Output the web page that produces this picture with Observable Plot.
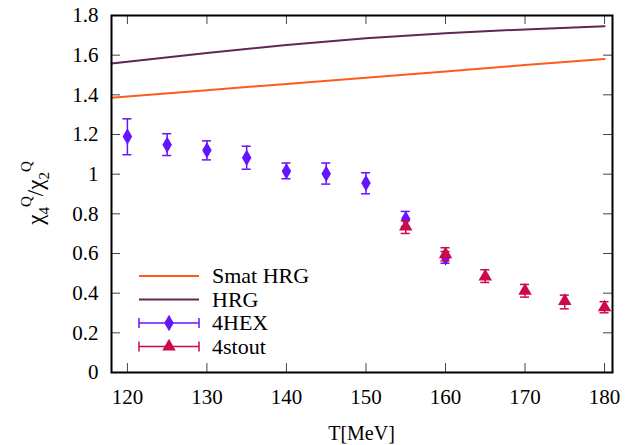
<!DOCTYPE html>
<html>
<head>
<meta charset="utf-8">
<script src="https://cdn.jsdelivr.net/npm/d3@7"></script>
<script src="https://cdn.jsdelivr.net/npm/@observablehq/plot@0.6"></script>
<style>
  body { margin: 0; background: #fff; }
  #chart svg { display: block; }
</style>
</head>
<body>
<div id="chart"></div>
<script>
// Model curves
const curveT = [118, 120, 130, 140, 150, 160, 170, 180];
const smatHRG = [1.385, 1.391, 1.423, 1.455, 1.486, 1.518, 1.550, 1.581];
const hrg = [1.558, 1.567, 1.611, 1.651, 1.685, 1.711, 1.730, 1.746];

// Lattice: 4HEX
const hexT = [120, 125, 130, 135, 140, 145, 150, 155, 160];
const hexVal = [1.190, 1.148, 1.121, 1.083, 1.015, 1.002, 0.955, 0.774, 0.580];
const hexLo = [1.098, 1.094, 1.072, 1.025, 0.977, 0.950, 0.901, 0.736, 0.551];
const hexHi = [1.279, 1.204, 1.168, 1.141, 1.056, 1.056, 1.007, 0.812, 0.610];

// Lattice: 4stout
const stoutT = [155, 160, 165, 170, 175, 180];
const stoutVal = [0.735, 0.596, 0.484, 0.412, 0.360, 0.328];
const stoutLo = [0.701, 0.563, 0.454, 0.380, 0.321, 0.301];
const stoutHi = [0.765, 0.629, 0.518, 0.444, 0.390, 0.357];

const xTicks = [120, 130, 140, 150, 160, 170, 180];
const yTicks = [0, 0.2, 0.4, 0.6, 0.8, 1, 1.2, 1.4, 1.6, 1.8];
const yTickLabels = ["0", "0.2", "0.4", "0.6", "0.8", "1", "1.2", "1.4", "1.6", "1.8"];

const legendLabels = ["Smat HRG", "HRG", "4HEX", "4stout"];

const C_SMAT = "#ff5a1e", C_HRG = "#5e2852", C_HEX = "#6414ff", C_STOUT = "#cc0a48";
const SERIF = "Liberation Serif";

const smat = curveT.map((T, i) => ({T, v: smatHRG[i]}));
const hrgD = curveT.map((T, i) => ({T, v: hrg[i]}));
const hex = hexT.map((T, i) => ({T, v: hexVal[i], lo: hexLo[i], hi: hexHi[i]}));
const stout = stoutT.map((T, i) => ({T, v: stoutVal[i], lo: stoutLo[i], hi: stoutHi[i]}));

const capHalf = 0.57;
const H = 357, W = 501, TL = 9;

function errMarks(data, color, symbol, r) {
  return [
    Plot.ruleX(data, {x: "T", y1: "lo", y2: "hi", stroke: color, strokeWidth: 1.5}),
    Plot.ruleY(data, {y: "lo", x1: d => d.T - capHalf, x2: d => d.T + capHalf, stroke: color, strokeWidth: 1.5}),
    Plot.ruleY(data, {y: "hi", x1: d => d.T - capHalf, x2: d => d.T + capHalf, stroke: color, strokeWidth: 1.5}),
    Plot.dot(data, {x: "T", y: "v", symbol, r, fill: color, stroke: "none"})
  ];
}

const chart = Plot.plot({
  width: 636,
  height: 445,
  marginLeft: 111,
  marginRight: 24,
  marginTop: 15,
  marginBottom: 73,
  style: {fontSize: "21px", background: "#fff", color: "#000", fontFamily: SERIF},
  x: {domain: [118, 181], ticks: xTicks, label: null},
  y: {domain: [0, 1.8], ticks: yTicks, label: null},
  marks: [
    Plot.ruleX(xTicks, {x: d => d, insetTop: H - TL, stroke: "#444", strokeWidth: 1}),
    Plot.ruleX(xTicks, {x: d => d, insetBottom: H - TL, stroke: "#444", strokeWidth: 1}),
    Plot.ruleY(yTicks, {y: d => d, insetRight: W - TL, stroke: "#444", strokeWidth: 1}),
    Plot.ruleY(yTicks, {y: d => d, insetLeft: W - TL, stroke: "#444", strokeWidth: 1}),
    Plot.axisX(xTicks, {tickSize: 0, tickPadding: 17, fontSize: 21, label: null}),
    Plot.axisY(yTicks, {tickSize: 0, tickPadding: 13, fontSize: 21, label: null,
      tickFormat: d => yTickLabels[yTicks.indexOf(d)]}),
    Plot.line(smat, {x: "T", y: "v", stroke: C_SMAT, strokeWidth: 2}),
    Plot.line(hrgD, {x: "T", y: "v", stroke: C_HRG, strokeWidth: 2}),
    ...errMarks(hex, C_HEX, "diamond", 5),
    ...errMarks(stout, C_STOUT, "triangle", 5),
    Plot.frame({stroke: "#000", strokeWidth: 2})
  ]
});

document.getElementById("chart").appendChild(chart);

const svg = d3.select(chart);
svg.attr("font-family", SERIF).style("font-family", SERIF, "important");
svg.append("text")
  .attr("x", 361.5).attr("y", 440)
  .attr("text-anchor", "middle")
  .attr("font-size", 20)
  .text("T[MeV]");

const yl = svg.append("text")
  .attr("transform", "translate(43,193) rotate(-90)")
  .attr("text-anchor", "middle")
  .attr("font-size", 23);
yl.append("tspan").text("χ");
yl.append("tspan").attr("dy", 6).attr("font-size", 15).text("4");
yl.append("tspan").attr("dy", -18).attr("font-size", 15).text("Q");
yl.append("tspan").attr("dy", 12).text("/χ");
yl.append("tspan").attr("dy", 6).attr("font-size", 15).text("2");
yl.append("tspan").attr("dy", -18).attr("font-size", 15).text("Q");

const colors = [C_SMAT, C_HRG, C_HEX, C_STOUT];
const lg = svg.append("g");
legendLabels.forEach((lab, i) => {
  const y = 276 + i * 23.5;
  const g = lg.append("g");
  g.append("line").attr("x1", 139).attr("x2", 199).attr("y1", y).attr("y2", y)
    .attr("stroke", colors[i]).attr("stroke-width", i < 2 ? 2 : 1.5);
  if (i >= 2) {
    g.append("line").attr("x1", 139).attr("x2", 139).attr("y1", y - 5).attr("y2", y + 5)
      .attr("stroke", colors[i]).attr("stroke-width", 1.5);
    g.append("line").attr("x1", 199).attr("x2", 199).attr("y1", y - 5).attr("y2", y + 5)
      .attr("stroke", colors[i]).attr("stroke-width", 1.5);
    const sym = d3.symbol().type(i === 2 ? d3.symbolDiamond : d3.symbolTriangle).size(Math.PI * 25);
    g.append("path").attr("d", sym()).attr("transform", `translate(169,${y})`).attr("fill", colors[i]);
  }
  g.append("text").attr("x", 212).attr("y", y + 7)
    .attr("text-anchor", "start")
    .attr("font-size", 22).attr("fill", "#000").text(lab);
});

svg.selectAll("text, tspan").attr("font-family", SERIF).style("font-family", SERIF, "important");
</script>
</body>
</html>
